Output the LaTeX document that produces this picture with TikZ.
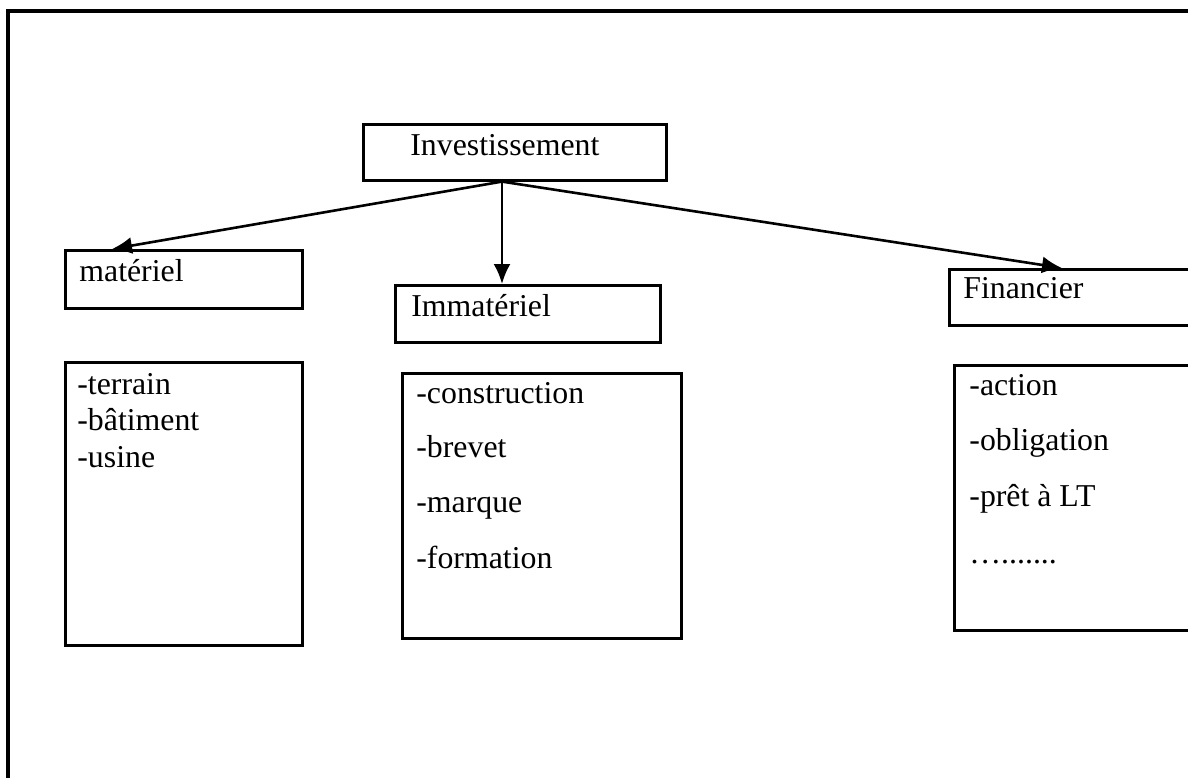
\documentclass[tikz,border=0pt]{standalone}
\usepackage{fontspec}
\setmainfont{Liberation Serif}
\usetikzlibrary{arrows.meta}

\begin{document}
\begin{tikzpicture}[x=0.5pt, y=-0.5pt,
        box/.style={draw, rectangle, line width=1.3pt, anchor=north west, inner sep=0pt},
        txt/.style={anchor=base west, inner sep=0pt, font=\fontsize{15.9}{19}\selectfont},
        arr/.style={-{Latex[length=10pt,width=8.5pt]}, line width=1.3pt}]
        \useasboundingbox (0,0) rectangle (1188,777);
        \clip (0,0) rectangle (1188,777);
        \draw[line width=1.6pt] (8,11) rectangle (1210,800);
        % boxes
        \node[box, minimum width=151.5pt, minimum height=28pt] (inv) at (362,123) {};
        \node[box, minimum width=118.5pt, minimum height=29pt] (mat) at (64,249) {};
        \node[box, minimum width=132.5pt, minimum height=28.5pt] (imm) at (394,284) {};
        \node[box, minimum width=150pt, minimum height=28pt] (fin) at (948,268) {};
        \node[box, minimum width=118.5pt, minimum height=141.5pt] (matl) at (64,361) {};
        \node[box, minimum width=139.5pt, minimum height=132.5pt] (imml) at (401,372) {};
        \node[box, minimum width=150pt, minimum height=132.5pt] (finl) at (953,364) {};
        % titles
        \node[txt] (tinv) at (410,155) {Investissement};
        \node[txt] (tmat) at (79,281) {matériel};
        \node[txt] (timm) at (411,316) {Immatériel};
        \node[txt] (tfin) at (963,298) {Financier};
        % lists
        \node[txt] (m1) at (77,394) {-terrain};
        \node[txt] (m2) at (77,430) {-bâtiment};
        \node[txt] (m3) at (77,467) {-usine};
        \node[txt] (i1) at (416,403) {-construction};
        \node[txt] (i2) at (416,457) {-brevet};
        \node[txt] (i3) at (416,512) {-marque};
        \node[txt] (i4) at (416,568) {-formation};
        \node[txt] (f1) at (969,395) {-action};
        \node[txt] (f2) at (969,450) {-obligation};
        \node[txt] (f3) at (969,506) {-prêt à LT};
        \node[txt] (f4) at (969,563) {….......};
        % arrows
        \coordinate (hub) at ([xshift=70pt]inv.south west);
        \draw[arr] (hub)--([xshift=24pt]mat.north west);
        \draw[arr] (hub)--([xshift=54pt]imm.north west);
        \draw[arr] (hub)--([xshift=57pt]fin.north west);
    \end{tikzpicture}
\end{document}
